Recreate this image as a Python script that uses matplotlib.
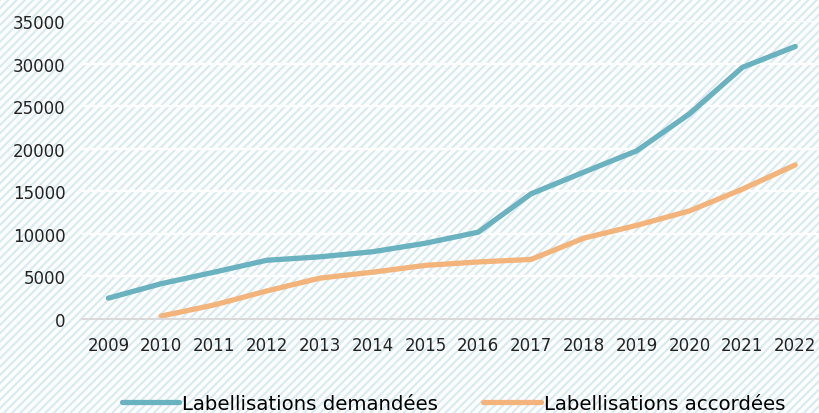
import matplotlib
matplotlib.use("Agg")
import matplotlib.pyplot as plt
from matplotlib.patches import Rectangle
import numpy as np

years = ["2009", "2010", "2011", "2012", "2013", "2014", "2015", "2016",
         "2017", "2018", "2019", "2020", "2021", "2022"]
demandees = [2450, 4150, 5500, 6900, 7300, 7900, 8900, 10200,
             14700, 17250, 19750, 24100, 29550, 32000]
accordees = [np.nan, 350, 1650, 3300, 4800, 5500, 6300, 6700,
             7000, 9500, 11000, 12700, 15250, 18100]
yticks = [0, 5000, 10000, 15000, 20000, 25000, 30000, 35000]

plt.rcParams['font.family'] = ['DejaVu Sans']
plt.rcParams['hatch.linewidth'] = 1.6
plt.rcParams['hatch.color'] = '#d9ebf0'

fig = plt.figure(figsize=(8.2, 4.14), dpi=100)
fig.patch.set_facecolor('white')
bg = Rectangle((0, 0), 1, 1, transform=fig.transFigure, facecolor='white',
               hatch='////', edgecolor='#d9ebf0', linewidth=0, zorder=-10)
fig.patches.append(bg)

ax = fig.add_axes([0.1, 0.227, 0.902, 0.72])
ax.patch.set_alpha(0)
x = np.arange(len(years))
ax.plot(x, demandees, color='#6ab2bf', lw=3.8, solid_capstyle='round',
        label='Labellisations demandées')
ax.plot(x, accordees, color='#f3b47c', lw=3.8, solid_capstyle='round',
        label='Labellisations accordées')
ax.set_xlim(-0.5, len(years) - 0.5)
ax.set_ylim(0, 35000)
ax.set_yticks(yticks)
ax.set_yticklabels([str(v) for v in yticks])
ax.set_xticks(x)
ax.set_xticklabels(years)
ax.tick_params(length=0, labelsize=12, colors='#222222')
ax.tick_params(axis='y', pad=12)
ax.tick_params(axis='x', pad=12.5)
ax.grid(axis='y', color='white', lw=1.6)
ax.set_axisbelow(True)
for s in ['top', 'right', 'left']:
    ax.spines[s].set_visible(False)
ax.spines['bottom'].set_color('#d9d9d9')
ax.spines['bottom'].set_linewidth(1.5)

fig.legend(loc='center', bbox_to_anchor=(0.553, 0.022), ncol=2, frameon=False,
           fontsize=14.2, handlelength=2.9, handletextpad=0.15, columnspacing=2.3)

fig.savefig('out.png', dpi=100)
